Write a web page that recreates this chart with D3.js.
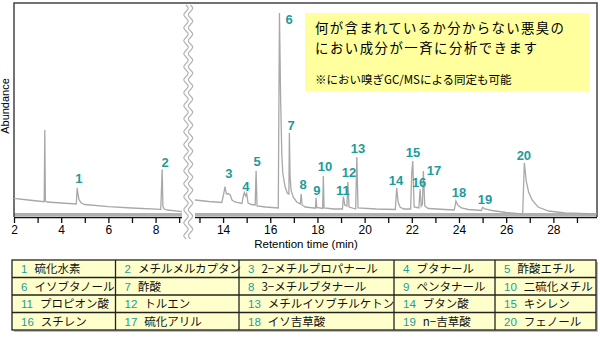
<!DOCTYPE html>
<html><head><meta charset="utf-8">
<script src="https://cdn.jsdelivr.net/npm/d3@7"></script>
<style>
html,body{margin:0;padding:0;background:#fff;}
svg{display:block;}
</style></head>
<body>
<svg id="c" width="600" height="341"></svg>
<script>
// ---- data ----
const leftTrace = [[2.0,17.7],[2.6,16],[3.28,14.3],[3.305,86],[3.33,15],[3.4,14],[4.0,13],[4.64,12],[4.68,28.3],[4.71,22],[4.76,16],[4.85,13],[5.0,11.5],[6.0,9.3],[7.0,8],[8.22,6.7],[8.28,46.7],[8.31,10],[8.36,7],[8.5,6],[9.12,4.3]];
const rightTrace = [[12.81,16],[13.4,14.5],[13.95,13.5],[14.05,25],[14.08,29.3],[14.14,22],[14.22,22.5],[14.3,21],[14.38,16],[14.5,14],[14.8,12.5],[14.86,20],[14.9,23.5],[14.96,20],[15.0,22.5],[15.06,13],[15.2,11.5],[15.36,11],[15.4,45.3],[15.44,10],[15.8,9],[16.34,8],[16.39,203],[16.44,116],[16.49,62],[16.53,43],[16.63,29],[16.72,23],[16.79,22],[16.81,83],[16.84,40],[16.88,26],[16.97,19],[17.12,14],[17.27,12],[17.31,22],[17.35,11],[17.48,9],[17.85,8],[17.92,8],[17.94,18.3],[17.97,8.5],[18.22,7.5],[18.25,40],[18.28,8],[18.7,7],[19.06,7],[19.1,19.3],[19.16,11],[19.25,10],[19.29,34],[19.34,9],[19.62,7],[19.67,59],[19.72,8],[20.5,7],[21.3,6.5],[21.36,28],[21.42,14],[21.5,9],[21.65,7],[21.95,7],[22.0,44],[22.04,55],[22.1,9],[22.3,8],[22.35,26.7],[22.4,10],[22.45,12],[22.49,45],[22.55,10],[22.7,7.5],[23.4,6.5],[23.8,6],[23.87,15],[23.95,11],[24.1,8],[24.4,6.5],[24.95,5.5],[25.0,8.7],[25.1,7],[25.4,5.5],[26.0,3.5],[26.7,2],[26.77,53.3],[26.85,35],[26.95,24],[27.1,16],[27.35,9],[27.8,5],[28.5,3],[29.85,2]];

// peak labels: id, retention time of label anchor, abundance of label anchor
const peakIds   = ["1","2","3","4","5","6","7","8","9","10","11","12","13","14","15","16","17","18","19","20"];
const peakTimes = [4.75,8.40,14.25,14.97,15.44,16.80,16.88,17.39,17.98,18.32,19.08,19.34,19.72,21.33,22.05,22.31,22.94,24.0,25.10,26.75];
const peakLevels= [33,49,38,25,50,192,86,27,21,45,21,39,63,31,59,29,41,19,12,56];

const leftTicks  = [2,3,4,5,6,7,8,9];
const rightTicks = [13,14,15,16,17,18,19,20,21,22,23,24,25,26,27,28,29];

const legendNums  = ["1","2","3","4","5","6","7","8","9","10","11","12","13","14","15","16","17","18","19","20"];
const legendNames = ["硫化水素","メチルメルカプタン","2−メチルプロパナール","ブタナール","酢酸エチル",
                     "イソブタノール","酢酸","3−メチルブタナール","ペンタナール","二硫化メチル",
                     "プロピオン酸","トルエン","メチルイソブチルケトン","ブタン酸","キシレン",
                     "スチレン","硫化アリル","イソ吉草酸","n−吉草酸","フェノール"];

const noteLines = ["何が含まれているか分からない悪臭の","におい成分が一斉に分析できます","※におい嗅ぎGC/MSによる同定も可能"];

// ---- drawing ----
const svg = d3.select("#c");
const teal = "#1c9c9c";
const xL = d3.scaleLinear().domain([2, 9.12]).range([14, 182]);
const xR = d3.scaleLinear().domain([12.81, 29.85]).range([195, 597]);
const y  = d3.scaleLinear().domain([0, 212]).range([216, 4]);

// axis bands
svg.append("rect").attr("x",14).attr("y",213).attr("width",168).attr("height",3).attr("fill","#b0b0b0");
svg.append("line").attr("x1",14).attr("x2",182).attr("y1",217.5).attr("y2",217.5).attr("stroke","#111").attr("stroke-width",1.5);
svg.append("rect").attr("x",195).attr("y",213).attr("width",402).attr("height",3).attr("fill","#b0b0b0");
svg.append("line").attr("x1",195).attr("x2",597).attr("y1",217.5).attr("y2",217.5).attr("stroke","#111").attr("stroke-width",1.5);

// frame
svg.append("path").attr("d","M14,217 L14,3 L597,3 L597,217").attr("fill","none").attr("stroke","#444").attr("stroke-width",1.5);

// traces
const line = (xs) => d3.line().x(d=>xs(d[0])).y(d=>y(d[1]));
svg.append("path").datum(leftTrace).attr("d",line(xL)).attr("fill","none").attr("stroke","#a8a8a8").attr("stroke-width",1.3);
svg.append("path").datum(rightTrace).attr("d",line(xR)).attr("fill","none").attr("stroke","#a8a8a8").attr("stroke-width",1.3);

// axes
function drawAxis(scale, ticks){
  const g = svg.append("g").attr("transform","translate(0,218)")
    .call(d3.axisBottom(scale).tickValues(ticks).tickSize(5).tickPadding(2).tickFormat(d=> d%2===0 ? d : ""));
  g.select(".domain").remove();
  g.selectAll(".tick line").attr("stroke","#111").attr("stroke-width",1.3);
  g.selectAll(".tick text").attr("font-family","Liberation Sans, Arial, sans-serif").attr("font-size",12).attr("fill","#000");
}
drawAxis(xL, leftTicks);
drawAxis(xR, rightTicks);

// break marks
svg.append("rect").attr("x",183).attr("y",5).attr("width",11).attr("height",232).attr("fill","#fff");
function wavy(x0){
  let d = `M${x0},5`;
  for(let yy=5; yy<235; yy+=13){
    d += ` C${x0+3},${yy+3} ${x0+3},${yy+3.5} ${x0},${yy+6.5} C${x0-3},${yy+9.5} ${x0-3},${yy+10} ${x0},${yy+13}`;
  }
  return d;
}
svg.append("path").attr("d",wavy(186)).attr("fill","none").attr("stroke","#b4b4b4").attr("stroke-width",1.2);
svg.append("path").attr("d",wavy(190.5)).attr("fill","none").attr("stroke","#b4b4b4").attr("stroke-width",1.2);

// y label
svg.append("text").attr("transform","translate(9,106) rotate(-90)").attr("text-anchor","middle")
  .attr("font-family","Liberation Sans, Arial, sans-serif").attr("font-size",11).attr("fill","#000").text("Abundance");
// x label
svg.append("text").attr("x",306).attr("y",247.5).attr("text-anchor","middle")
  .attr("font-family","Liberation Sans, Arial, sans-serif").attr("font-size",11.5).attr("fill","#000").text("Retention time (min)");

// peak labels
peakIds.forEach((id,i)=>{
  const t = peakTimes[i];
  const xs = t < 10 ? xL : xR;
  svg.append("text").attr("x",xs(t)).attr("y",y(peakLevels[i])).attr("text-anchor","middle")
    .attr("font-family","Liberation Sans, Arial, sans-serif").attr("font-size",13).attr("font-weight","bold").attr("fill",teal).text(id);
});

// note box
svg.append("rect").attr("x",305).attr("y",13).attr("width",284).attr("height",78).attr("fill","#ffff9e");
const jp = "'Noto Sans CJK JP', sans-serif";
svg.append("text").attr("x",315).attr("y",33.2).attr("font-family",jp).attr("font-size",13.4).attr("letter-spacing",1.35).attr("fill","#000").text(noteLines[0]);
svg.append("text").attr("x",315).attr("y",52.8).attr("font-family",jp).attr("font-size",13.4).attr("letter-spacing",1.5).attr("fill","#000").text(noteLines[1]);
svg.append("text").attr("x",315).attr("y",84).attr("font-family",jp).attr("font-size",11.5).attr("fill","#000").text(noteLines[2]);

// legend table
const colX = [12,115.5,239,394,495,596];
const rowY = [260,277.5,295,312.5,330];
svg.append("rect").attr("x",14).attr("y",262).attr("width",584).attr("height",70).attr("fill","#bbb");
svg.append("rect").attr("x",colX[0]).attr("y",rowY[0]).attr("width",colX[5]-colX[0]).attr("height",rowY[4]-rowY[0]).attr("fill","#ffffcc");
legendNums.forEach((n,i)=>{
  const c = i%5, r = Math.floor(i/5);
  const tx = colX[c] + 9, ty = rowY[r] + 13;
  const t = svg.append("text").attr("x",tx).attr("y",ty).attr("font-size",11.5).attr("font-family",jp);
  t.append("tspan").attr("fill",teal).attr("font-family","Liberation Sans, Arial, sans-serif").text(n);
  t.append("tspan").attr("fill","#111").attr("dx", 7).text(legendNames[i]);
  const maxW = colX[c+1]-tx-4;
  const w = t.node().getComputedTextLength();
  if (w > maxW) t.attr("textLength",maxW).attr("lengthAdjust","spacingAndGlyphs");
});
const grid = svg.append("g").attr("stroke","#222").attr("stroke-width",1.3).attr("fill","none");
grid.append("rect").attr("x",colX[0]).attr("y",rowY[0]).attr("width",colX[5]-colX[0]).attr("height",rowY[4]-rowY[0]);
colX.slice(1,5).forEach(x=>grid.append("line").attr("x1",x).attr("x2",x).attr("y1",rowY[0]).attr("y2",rowY[4]));
rowY.slice(1,4).forEach(yy=>grid.append("line").attr("x1",colX[0]).attr("x2",colX[5]).attr("y1",yy).attr("y2",yy));
</script>
</body></html>
